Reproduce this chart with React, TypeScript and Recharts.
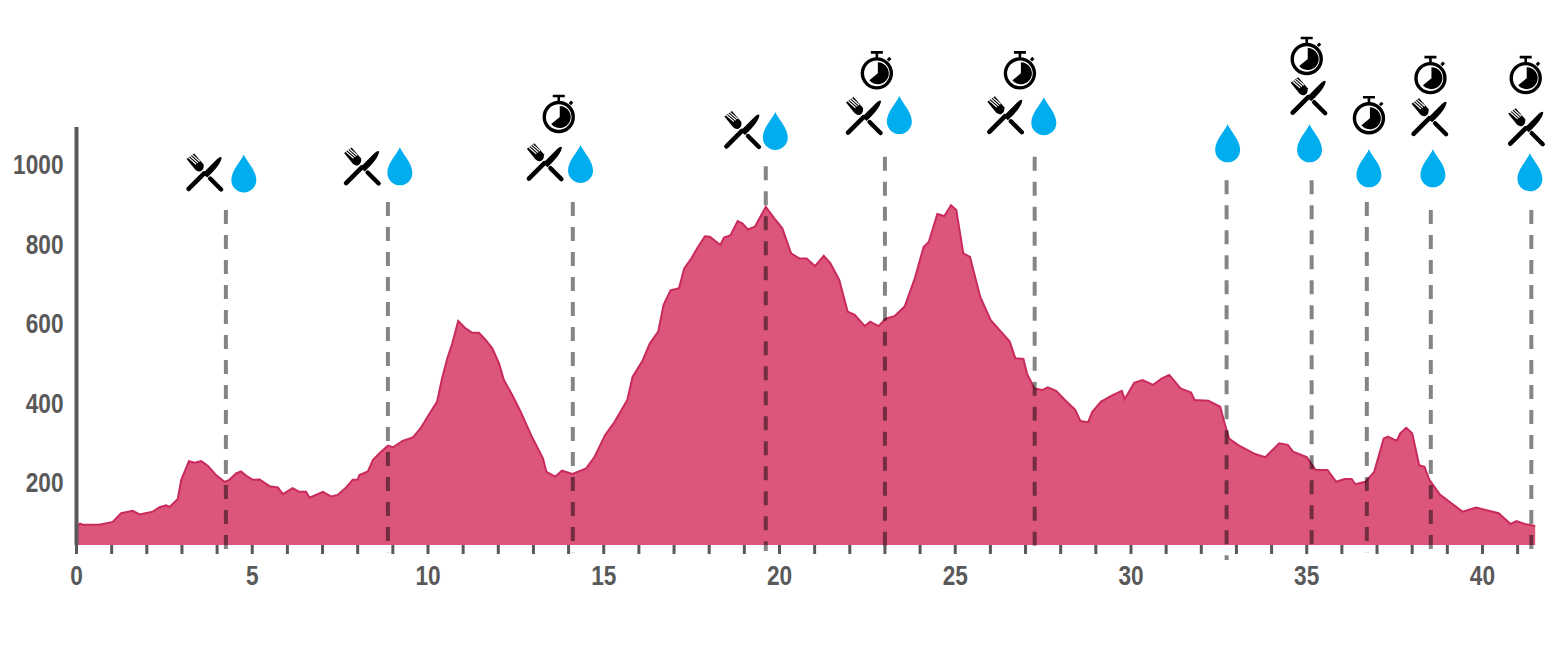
import { AreaChart, Area, XAxis, YAxis, ReferenceLine, ReferenceDot } from "recharts";

// course profile, km and elevation
const distances = [
  0.01, 0.1, 0.18, 0.65, 1.03, 1.27, 1.6, 1.79, 2.17, 2.36, 2.55, 2.65, 2.88, 2.98, 3.2, 3.36, 3.55, 3.74, 3.97, 4.21,
  4.35, 4.54, 4.68, 4.83, 5.02, 5.21, 5.49, 5.73, 5.87, 6.15, 6.34, 6.53, 6.63, 7.01, 7.25, 7.43, 7.67, 7.86, 8.0, 8.05,
  8.29, 8.43, 8.62, 8.86, 9.0, 9.28, 9.57, 9.79, 10.02, 10.26, 10.4, 10.55, 10.69, 10.86, 11.07, 11.26, 11.45, 11.64,
  11.83, 12.02, 12.16, 12.4, 12.64, 12.93, 13.27, 13.37, 13.62, 13.81, 14.11, 14.5, 14.74, 15.04, 15.28, 15.67, 15.82,
  16.11, 16.31, 16.55, 16.7, 16.9, 17.14, 17.29, 17.49, 17.68, 17.88, 18.02, 18.32, 18.42, 18.61, 18.81, 18.95, 19.1,
  19.3, 19.61, 19.89, 20.08, 20.33, 20.57, 20.77, 21.01, 21.26, 21.45, 21.7, 21.94, 22.14, 22.43, 22.58, 22.82, 23.02,
  23.27, 23.56, 23.85, 24.1, 24.25, 24.49, 24.69, 24.88, 25.03, 25.23, 25.42, 25.71, 26.01, 26.55, 26.71, 26.94, 27.04,
  27.25, 27.48, 27.63, 27.87, 28.12, 28.41, 28.56, 28.78, 28.9, 29.15, 29.45, 29.74, 29.82, 30.09, 30.33, 30.63, 30.87,
  31.09, 31.41, 31.71, 31.81, 32.2, 32.54, 32.64, 32.79, 33.04, 33.53, 33.82, 34.22, 34.46, 34.61, 35.0, 35.25, 35.59,
  35.84, 36.08, 36.28, 36.38, 36.67, 36.92, 37.19, 37.31, 37.56, 37.66, 37.83, 38.0, 38.2, 38.35, 38.49, 38.79, 39.43,
  39.82, 40.46, 40.8, 40.97, 41.2, 41.5,
];
const elevations = [
  92, 98, 95, 95, 102, 124, 130, 121, 128, 139, 144, 140, 160, 208, 255, 251, 255, 243, 220, 203,
  208, 224, 229, 218, 208, 209, 192, 189, 172, 187, 178, 178, 163, 178, 166, 170, 189, 208, 209, 220,
  229, 258, 275, 294, 290, 306, 315, 338, 371, 405, 463, 514, 551, 608, 589, 578, 578, 560,
  539, 501, 459, 421, 379, 321, 262, 228, 216, 231, 223, 237, 266, 321, 350, 409, 467,
  509, 551, 581, 648, 685, 690, 740, 765, 794, 821, 820, 799, 818, 824, 859, 853, 838,
  845, 895, 862, 841, 778, 765, 765, 746, 772, 753, 711, 631, 623, 595, 606, 595, 614,
  620, 644, 715, 794, 807, 877, 872, 899, 887, 778, 769, 669, 610, 556, 514, 512, 476,
  438, 434, 441, 432, 409, 385, 356, 353, 379, 405, 420, 432, 411, 452, 459, 447, 463,
  472, 438, 428, 409, 407, 392, 358, 312, 296, 273, 265, 300, 296, 279, 265, 233, 233,
  203, 210, 210, 197, 203, 228, 312, 317, 306, 325, 339, 325, 245, 241, 208, 171, 128,
  138, 124, 97, 104, 97, 92,
];

const kmTicks = Array.from({ length: 42 }, (_, i) => i);
const elevationTicks = [200, 400, 600, 800, 1000];

// aid stations: km, top and bottom of the dashed line (elevation)
const stationKm = [4.25, 8.86, 14.12, 19.61, 23.0, 27.26, 32.72, 35.14, 36.71, 38.53, 41.39];
const stationTop = [887, 907, 907, 997, 1021, 1021, 962, 962, 907, 887, 887];
const stationBottom = [6, 26, 26, 29, 41, 41, 6, 41, 26, 6, 6];

// icons, [km, elevation] of their centres
const foodMarks = [
  [3.66, 979], [8.14, 994], [13.34, 1005], [18.96, 1086], [22.42, 1121], [26.44, 1123], [35.07, 1171], [38.51, 1118], [41.26, 1093],
];
const waterMarks = [
  [4.76, 979], [9.2, 997], [14.34, 1003], [19.88, 1086], [23.41, 1126], [27.52, 1123], [32.75, 1055], [35.08, 1055], [36.77, 992], [38.59, 992], [41.35, 982],
];
const timerMarks = [
  [13.72, 1121], [22.77, 1231], [26.84, 1231], [35.0, 1267], [36.77, 1118], [38.52, 1219], [41.23, 1219],
];

const chartData = distances.map((km, i) => ({ km, elevation: elevations[i] }));

// labels in the picture are squeezed horizontally, no narrow font here so scale it
const SqueezedTick = ({ x, y, payload, anchor, dy }: any) => {
  if (anchor === "middle" && payload.value % 5 !== 0) return null;
  return (
    <text
      transform={`translate(${x},${y + dy}) scale(0.84,1)`}
      textAnchor={anchor}
      fill="#595959"
      fontSize={27}
      fontWeight={700}
      fontFamily="Liberation Sans"
    >
      {payload.value}
    </text>
  );
};

const FoodIcon = ({ cx, cy }: any) => (
  <g transform={`translate(${cx},${cy})`}>
    {/* knife */}
    <path d="M-16.5,15.5 L-1,0" stroke="#000" strokeWidth={4.6} strokeLinecap="round" />
    <path d="M-2.5,0 L12,-14.5 Q15.5,-17.5 16.5,-16 Q16,-9 2,4 Z" fill="#000" />
    {/* fork */}
    <path d="M5,5 L16,16" stroke="#000" strokeWidth={4.4} strokeLinecap="round" />
    <path d="M-18.5,-14.5 L-11,-20 L-1.5,-9 Q-1,-4.5 -4,-2.5 Q-7,-1 -10,-4 Z" fill="#000" />
    <path d="M-16.6,-15.9 L-9.1,-9.3 M-14.75,-17.25 L-7.25,-10.65 M-12.9,-18.6 L-5.4,-12" stroke="#fff" strokeWidth={1.2} />
  </g>
);

const WaterIcon = ({ cx, cy }: any) => (
  <path
    transform={`translate(${cx},${cy})`}
    d="M0,-19 C3,-12 12.5,-3 12.5,6.5 A12.5,12.5 0 1 1 -12.5,6.5 C-12.5,-3 -3,-12 0,-19 Z"
    fill="#00aeef"
  />
);

const TimerIcon = ({ cx, cy }: any) => (
  <g transform={`translate(${cx},${cy})`}>
    <circle r={14.5} fill="#fff" stroke="#000" strokeWidth={3.4} />
    <path d="M0,-11 A11,11 0 1 1 -8.5,7 L0,0 Z" fill="#000" transform="translate(1,0)" />
    <path d="M-6,-21 H6 M0,-21 V-15" stroke="#000" strokeWidth={2.6} />
    <path d="M11,-13 L13.5,-15.5" stroke="#000" strokeWidth={3} />
  </g>
);

export default function App() {
  return (
    <div style={{ position: "absolute", left: 0, top: 0, width: 1562, height: 653, background: "#fff" }}>
      <AreaChart width={1562} height={653} data={chartData} margin={{ top: 127, right: 26.8, bottom: 0, left: 0 }}>
        <XAxis
          dataKey="km"
          type="number"
          domain={[0, 41.5]}
          ticks={kmTicks}
          interval={0}
          height={108}
          axisLine={false}
          tickSize={9}
          tickMargin={10}
          tickLine={{ stroke: "#595959", strokeWidth: 3 }}
          tick={<SqueezedTick anchor="middle" dy={21} />}
        />
        <YAxis
          type="number"
          domain={[44, 1096]}
          ticks={elevationTicks}
          interval={0}
          width={76.5}
          tickLine={false}
          tickSize={0}
          tickMargin={13}
          axisLine={{ stroke: "#595959", strokeWidth: 4 }}
          tick={<SqueezedTick anchor="end" dy={9} />}
        />
        <Area
          type="linear"
          dataKey="elevation"
          stroke="#c92a5c"
          strokeWidth={2}
          fill="#dc567c"
          fillOpacity={1}
          isAnimationActive={false}
        />
        {stationKm.map((km, i) => (
          <ReferenceLine
            key={km}
            segment={[
              { x: km, y: stationTop[i] },
              { x: km, y: stationBottom[i] },
            ]}
            ifOverflow="visible"
            stroke="#000"
            strokeOpacity={0.48}
            strokeWidth={4}
            strokeDasharray="14 11"
          />
        ))}
        {foodMarks.map(([km, alt]) => (
          <ReferenceDot key={`food-${km}`} x={km} y={alt} ifOverflow="visible" shape={<FoodIcon />} />
        ))}
        {waterMarks.map(([km, alt]) => (
          <ReferenceDot key={`water-${km}`} x={km} y={alt} ifOverflow="visible" shape={<WaterIcon />} />
        ))}
        {timerMarks.map(([km, alt]) => (
          <ReferenceDot key={`timer-${km}`} x={km} y={alt} ifOverflow="visible" shape={<TimerIcon />} />
        ))}
      </AreaChart>
    </div>
  );
}
